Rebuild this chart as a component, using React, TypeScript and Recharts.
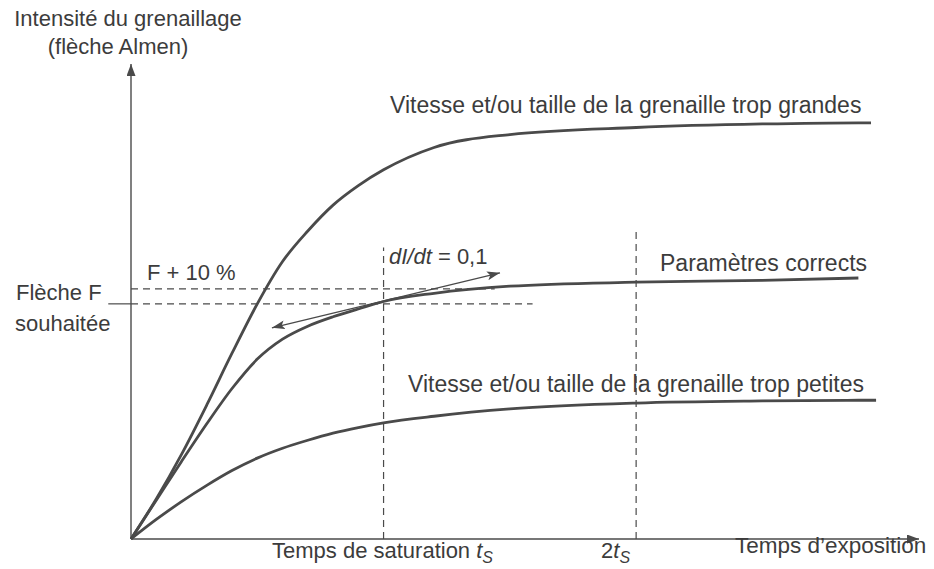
import React from 'react'
import { LineChart, Line, XAxis, YAxis, ReferenceLine } from 'recharts'

// exposure time, in units of the saturation time tS
const timeS = [0, 0.1, 0.2, 0.3, 0.4, 0.5, 0.6, 0.7, 0.8, 0.9, 1.0, 1.2, 1.5, 2.0, 2.5, 2.88, 2.93, 2.95]
// Almen intensity, in units of the wanted arc height F
const tooHigh = [0, 0.17, 0.36, 0.57, 0.79, 1.0, 1.18, 1.31, 1.42, 1.503, 1.57, 1.665, 1.72, 1.75, 1.765, 1.77, 1.77, null]
const correct = [0, 0.165, 0.33, 0.49, 0.64, 0.765, 0.85, 0.905, 0.945, 0.978, 1.01, 1.045, 1.075, 1.092, 1.1, 1.11, null, null]
const tooLow = [0, 0.083, 0.159, 0.228, 0.291, 0.344, 0.386, 0.42, 0.45, 0.474, 0.494, 0.522, 0.553, 0.578, 0.587, 0.59, 0.59, 0.59]

const wantedF = 1
const fPlus10 = 1.064
const tangentStart = { t: 0.558, v: 0.898 }
const tangentEnd = { t: 1.461, v: 1.132 }

const rows = timeS.map((t, i) => ({ t, high: tooHigh[i], ok: correct[i], low: tooLow[i] }))

const INK = '#4a4a4a'
const TXT = '#3c3c3c'
const FONT = '"Liberation Sans", Arial, sans-serif'

const App = () => {
  return (
    <div style={{ position: 'absolute', left: 0, top: 0, width: 934, height: 569, background: '#fff' }}>
      <LineChart width={934} height={569} data={rows} margin={{ top: 64, right: 15, bottom: 30, left: 131 }}>
        <XAxis type="number" dataKey="t" domain={[0, 3.12]} hide />
        <YAxis type="number" domain={[0, 2.02]} hide />

        {/* axes with arrow heads */}
        <ReferenceLine segment={[{ x: 0, y: 0 }, { x: 3.12, y: 0 }]} stroke={INK} strokeWidth={1.4} markerEnd="url(#ah)" ifOverflow="visible" />
        <ReferenceLine segment={[{ x: 0, y: 0 }, { x: 0, y: 2.02 }]} stroke={INK} strokeWidth={1.4} markerEnd="url(#ah)" ifOverflow="visible" />

        {/* dashed guides */}
        <ReferenceLine segment={[{ x: 1, y: 0 }, { x: 1, y: 1.24 }]} stroke={INK} strokeWidth={1.2} strokeDasharray="7 5" />
        <ReferenceLine segment={[{ x: 2, y: 0 }, { x: 2, y: 1.31 }]} stroke={INK} strokeWidth={1.2} strokeDasharray="7 5" />
        <ReferenceLine segment={[{ x: 0, y: fPlus10 }, { x: 1.44, y: fPlus10 }]} stroke={INK} strokeWidth={1.2} strokeDasharray="7 5" />
        <ReferenceLine segment={[{ x: 0, y: wantedF }, { x: 1.59, y: wantedF }]} stroke={INK} strokeWidth={1.2} strokeDasharray="7 5" />
        <ReferenceLine segment={[{ x: -0.09, y: wantedF }, { x: 0, y: wantedF }]} stroke={INK} strokeWidth={1.2} ifOverflow="visible" />

        {/* tangent dI/dt */}
        <ReferenceLine
          segment={[{ x: tangentStart.t, y: tangentStart.v }, { x: tangentEnd.t, y: tangentEnd.v }]}
          stroke={INK}
          strokeWidth={1.3}
          markerStart="url(#ah2)"
          markerEnd="url(#ah2)"
        />

        <Line type="monotone" dataKey="high" stroke={INK} strokeWidth={2.8} dot={false} isAnimationActive={false} />
        <Line type="monotone" dataKey="ok" stroke={INK} strokeWidth={2.8} dot={false} isAnimationActive={false} />
        <Line type="monotone" dataKey="low" stroke={INK} strokeWidth={2.8} dot={false} isAnimationActive={false} />
      </LineChart>

      <svg width={934} height={569} style={{ position: 'absolute', left: 0, top: 0, pointerEvents: 'none' }} fontFamily={FONT} fill={TXT}>
        <defs>
          <marker id="ah" viewBox="0 0 12 9" refX="12" refY="4.5" markerWidth="12" markerHeight="9" orient="auto-start-reverse" markerUnits="userSpaceOnUse">
            <path d="M0,0 L12,4.5 L0,9 z" fill={INK} />
          </marker>
          <marker id="ah2" viewBox="0 0 13 9" refX="13" refY="4.5" markerWidth="13" markerHeight="9" orient="auto-start-reverse" markerUnits="userSpaceOnUse">
            <path d="M0,0 L13,4.5 L0,9 L3,4.5 z" fill={INK} />
          </marker>
        </defs>

        <text x={128} y={26} fontSize={22} textAnchor="middle">Intensité du grenaillage</text>
        <text x={118} y={54} fontSize={22} textAnchor="middle">(flèche Almen)</text>

        <text x={390} y={113} fontSize={23}>Vitesse et/ou taille de la grenaille trop grandes</text>
        <text x={660} y={271} fontSize={23}>Paramètres corrects</text>
        <text x={408} y={392} fontSize={23}>Vitesse et/ou taille de la grenaille trop petites</text>

        <text x={389} y={264} fontSize={22}>
          <tspan fontStyle="italic">dI/dt</tspan> = 0,1
        </text>
        <text x={147} y={280} fontSize={22}>F + 10 %</text>
        <text x={16} y={300} fontSize={22}>Flèche F</text>
        <text x={15} y={331} fontSize={22}>souhaitée</text>

        <text x={272} y={558} fontSize={22}>
          Temps de saturation <tspan fontStyle="italic">t</tspan>
          <tspan fontStyle="italic" fontSize={16} dy={5}>S</tspan>
        </text>
        <text x={601} y={558} fontSize={22}>
          2<tspan fontStyle="italic">t</tspan>
          <tspan fontStyle="italic" fontSize={16} dy={5}>S</tspan>
        </text>
        <text x={735} y={553} fontSize={22.5}>Temps d’exposition</text>
      </svg>
    </div>
  )
}

export default App
